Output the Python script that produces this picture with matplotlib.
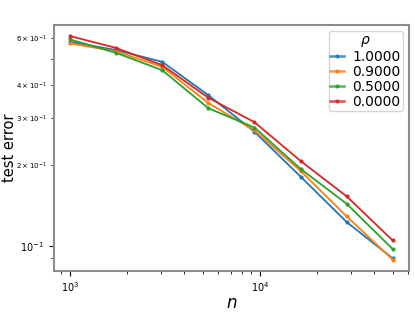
import numpy as np
import matplotlib
matplotlib.use("Agg")
import matplotlib.pyplot as plt

# ---- DATA ----
n_vals = [1000, 1749, 3059, 5350, 9358, 16368, 28630, 50000]
rhos = ["1.0000", "0.9000", "0.5000", "0.0000"]
err_rho_100 = [0.580, 0.540, 0.488, 0.366, 0.267, 0.1815, 0.1226, 0.0897]
err_rho_090 = [0.572, 0.534, 0.467, 0.342, 0.270, 0.1906, 0.1287, 0.0887]
err_rho_050 = [0.592, 0.527, 0.454, 0.327, 0.277, 0.1940, 0.1435, 0.0972]
err_rho_000 = [0.609, 0.550, 0.474, 0.358, 0.290, 0.2077, 0.1530, 0.1047]
errors = [err_rho_100, err_rho_090, err_rho_050, err_rho_000]
colors = ["#1f77b4", "#ff7f0e", "#2ca02c", "#d62728"]

fig = plt.figure(figsize=(4.15, 3.12), dpi=100)
ax = fig.add_axes([0.13, 0.132, 0.855, 0.788])

for rho, err, c in zip(rhos, errors, colors):
    ax.plot(n_vals, err, marker=".", markersize=4, linewidth=1.3, color=c, label=rho)

ax.set_xscale("log")
ax.set_yscale("log")
ax.set_xlabel("$n$", fontsize=12)
ax.set_ylabel("test error", fontsize=10.5)
ax.xaxis.set_label_coords(0.501, -0.094)
ax.yaxis.set_label_coords(-0.105, 0.5)
ax.tick_params(axis="both", which="major", labelsize=7)
ax.tick_params(axis="both", which="minor", labelsize=5)

for s in ax.spines.values():
    s.set_color("0.55")
    s.set_linewidth(1.5)

leg = ax.legend(title=r"$\rho$", fontsize=10, title_fontsize=10, loc="upper right",
                handlelength=1.0, handletextpad=0.6, labelspacing=0.08,
                borderpad=0.12, borderaxespad=0.45)
for h in leg.legend_handles:
    h.set_alpha(0.8)
    h.set_linewidth(1.8)

fig.savefig("out.png", dpi=100)
